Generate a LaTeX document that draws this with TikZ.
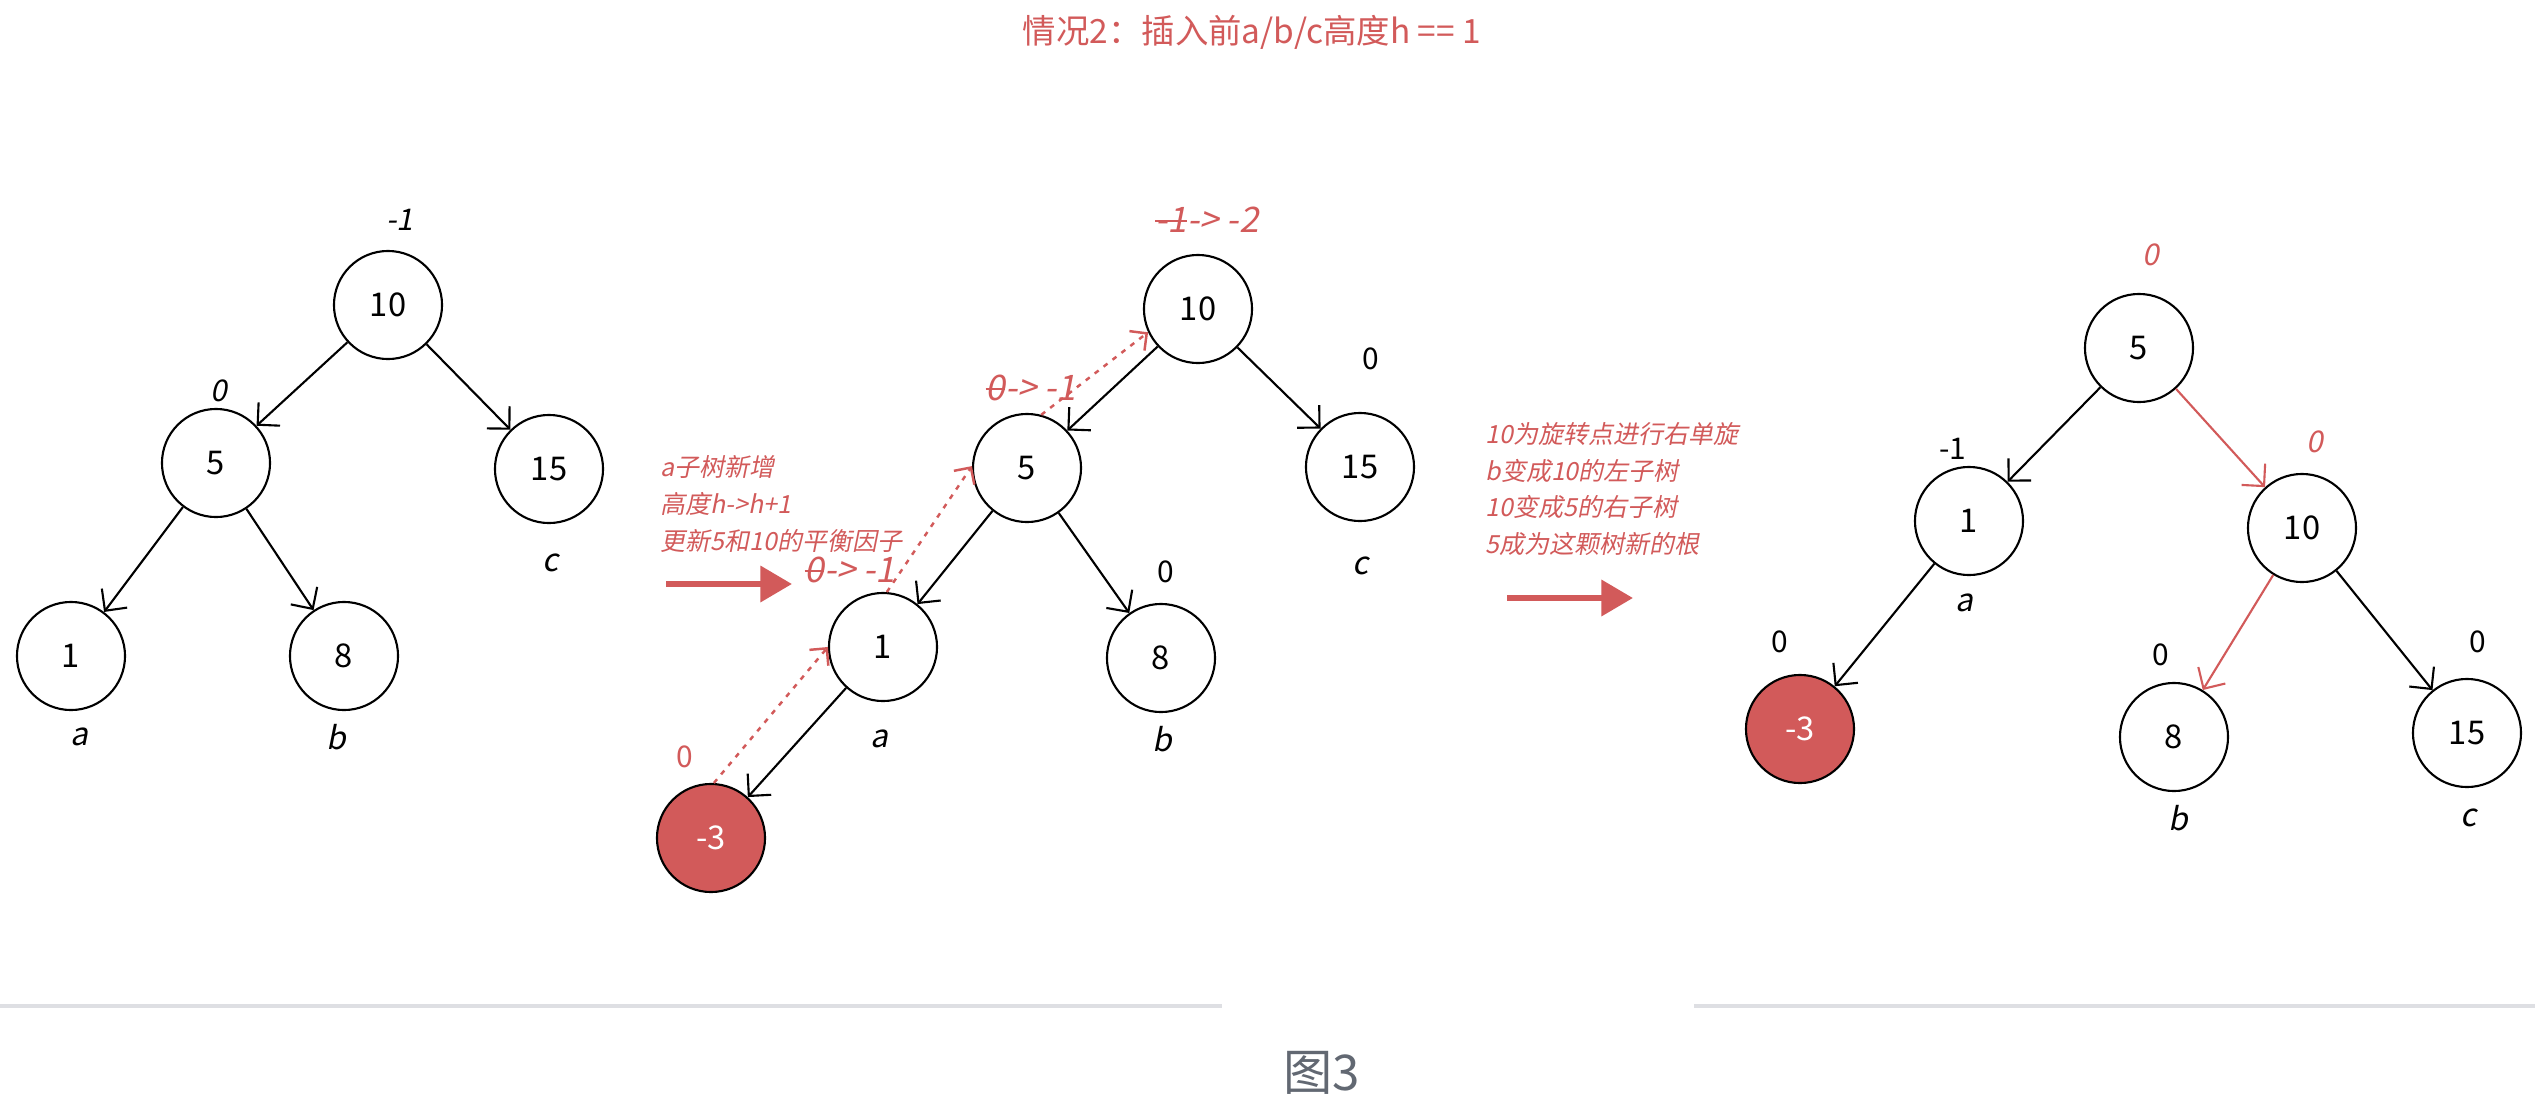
\documentclass[tikz,border=0pt]{standalone}
\usepackage{fontspec}
\setmainfont{Noto Sans CJK SC}[AutoFakeSlant=0.2]
\usetikzlibrary{arrows.meta}
\definecolor{avlred}{RGB}{210,90,90}
\definecolor{captiongray}{RGB}{98,104,114}
\definecolor{rulegray}{RGB}{222,223,227}
\newcommand{\struck}[1]{\setbox0\hbox{#1}\rlap{\raisebox{0.3em}{\rule{\wd0}{0.5pt}}}\box0}

\begin{document}
\begin{tikzpicture}[x=0.01cm, y=-0.01cm,
    treenode/.style={circle, draw, line width=0.6pt, minimum size=1.08cm,
                     inner sep=0pt, font=\fontsize{9.3}{10}\selectfont},
    newnode/.style={treenode, fill=avlred, text=white},
    link/.style={-{Straight Barb[length=4.5pt,width=9pt]}, line width=0.6pt},
    redlink/.style={link, draw=avlred},
    uplink/.style={-{Straight Barb[length=3.5pt,width=7pt]}, draw=avlred,
                   line width=0.7pt, dash pattern=on 1.4pt off 1.8pt},
    bal/.style={font=\fontsize{8.5}{10}\selectfont\itshape},
    balup/.style={font=\fontsize{8.5}{10}\selectfont},
    newbal/.style={text=avlred, font=\fontsize{10}{11}\selectfont\itshape},
    subtree/.style={font=\fontsize{9}{10}\selectfont\itshape},
    note/.style={text=avlred, font=\fontsize{7.1}{10.4}\selectfont\itshape,
                 align=left, anchor=west, inner sep=0pt},
    bigarrow/.style={-{Triangle[length=9pt,width=10pt]}, draw=avlred, line width=1.8pt}
  ]
    \useasboundingbox (0,0) rectangle (2535,1109);
    \fill[white] (0,0) rectangle (2535,1109);

    \node[text=avlred, font=\fontsize{9.5}{11}\selectfont] (title) at (1252,32)
      {情况2：插入前a/b/c高度h == 1};

    % before insertion
    \node[treenode] (l10) at (388,305) {10};
    \node[treenode] (l5)  at (216,463) {5};
    \node[treenode] (l15) at (549,469) {15};
    \node[treenode] (l1)  at (71,656)  {1};
    \node[treenode] (l8)  at (344,656) {8};
    \node[bal] (l10bal) at (400,220) {-1};
    \node[bal] (l5bal)  at (219,391) {0};
    \node[subtree] (lc) at (551,563) {c};
    \node[subtree] (la) at (79,737)  {a};
    \node[subtree] (lb) at (336,737) {b};

    \draw[link] (l10) -- (l5);
    \draw[link] (l10) -- (l15);
    \draw[link] (l5) -- (l1);
    \draw[link] (l5) -- (l8);

    % after insertion
    \node[note] (mnote) at (660,504) {a子树新增\\高度h->h+1\\更新5和10的平衡因子};
    \coordinate (marrow1) at (666,584);
    \coordinate (marrow2) at (792,584);
    \draw[bigarrow] (marrow1) -- (marrow2);

    \node[treenode] (m10) at (1198,309) {10};
    \node[treenode] (m5)  at (1027,468) {5};
    \node[treenode] (m15) at (1360,467) {15};
    \node[treenode] (m1)  at (883,647)  {1};
    \node[treenode] (m8)  at (1161,658) {8};
    \node[newnode]  (mn3) at (711,838)  {-3};
    \node[newbal] (m10bal) at (1207,220) {\struck{-1} -> -2};
    \node[newbal] (m5bal)  at (1031,388) {\struck{0} -> -1};
    \node[newbal] (m1bal)  at (850,570)  {\struck{0} -> -1};
    \node[balup, text=avlred] (mn3bal) at (685,757) {0};
    \node[balup] (m15bal) at (1371,359) {0};
    \node[balup] (m8bal)  at (1166,572) {0};
    \node[subtree] (mc) at (1361,566) {c};
    \node[subtree] (ma) at (879,739)  {a};
    \node[subtree] (mb) at (1162,739) {b};

    \draw[link] (m10) -- (m5);
    \draw[link] (m10) -- (m15);
    \draw[link] (m5) -- (m1);
    \draw[link] (m5) -- (m8);
    \draw[link] (m1) -- (mn3);
    \draw[uplink] (mn3.87) -- (m1.180);
    \draw[uplink] (m1.86) -- (m5.178);
    \draw[uplink] (m5.75) -- (m10.205);

    % after right rotation
    \node[note] (rnote) at (1485,489)
      {10为旋转点进行右单旋\\b变成10的左子树\\10变成5的右子树\\5成为这颗树新的根};
    \coordinate (rarrow1) at (1507,598);
    \coordinate (rarrow2) at (1633,598);
    \draw[bigarrow] (rarrow1) -- (rarrow2);

    \node[treenode] (r5)  at (2139,348) {5};
    \node[treenode] (r1)  at (1969,521) {1};
    \node[treenode] (r10) at (2302,528) {10};
    \node[newnode]  (rn3) at (1800,729) {-3};
    \node[treenode] (r8)  at (2174,737) {8};
    \node[treenode] (r15) at (2467,733) {15};
    \node[bal, text=avlred] (r5bal)  at (2151,255) {0};
    \node[balup] (r1bal) at (1953,449) {-1};
    \node[bal, text=avlred] (r10bal) at (2315,442) {0};
    \node[balup] (rn3bal) at (1780,642) {0};
    \node[balup] (r8bal)  at (2161,655) {0};
    \node[balup] (r15bal) at (2478,642) {0};
    \node[subtree] (ra) at (1964,603) {a};
    \node[subtree] (rb) at (2178,818) {b};
    \node[subtree] (rc) at (2469,818) {c};

    \draw[link] (r5) -- (r1);
    \draw[redlink] (r5) -- (r10);
    \draw[link] (r1) -- (rn3);
    \draw[redlink] (r10) -- (r8);
    \draw[link] (r10) -- (r15);

    \draw[rulegray, line width=0.9pt] (0,1006) -- (1222,1006);
    \draw[rulegray, line width=0.9pt] (1694,1006) -- (2535,1006);
    \node[text=captiongray, font=\fontsize{14}{16}\selectfont] (caption) at (1322,1073) {图3};
  \end{tikzpicture}
\end{document}
